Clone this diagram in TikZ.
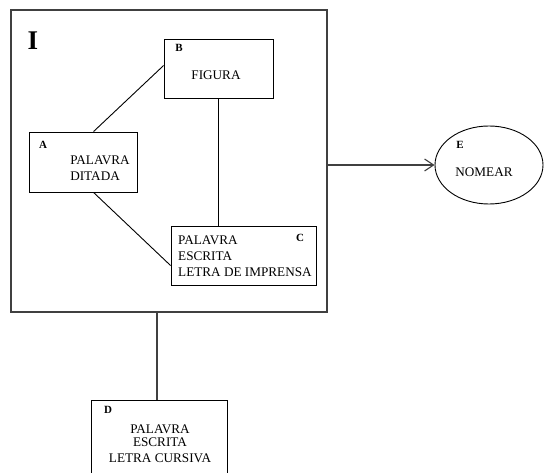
\documentclass[tikz,border=0pt]{standalone}
\usepackage{fontspec}
\setmainfont{Liberation Serif}
\usetikzlibrary{arrows.meta,shapes.geometric}
\begin{document}
\begin{tikzpicture}[x=1pt,y=-1pt,
  box/.style={draw=black,line width=0.9pt,rectangle,inner sep=0pt},
  lbl/.style={font=\fontsize{11}{11}\selectfont\bfseries,inner sep=0pt},
  txt/.style={font=\fontsize{13.2}{16}\selectfont,inner sep=0pt,align=center},
  link/.style={draw=black,line width=0.9pt},
  outer/.style={draw=black!75,line width=1.1pt}]
\useasboundingbox (0,0) rectangle (546,473);
\clip (0,0) rectangle (546,473);
% frame I
\node[outer,rectangle,minimum width=316pt,minimum height=302pt,inner sep=0pt] (I) at (169,161) {};
\node[font=\fontsize{27}{27}\selectfont\bfseries,inner sep=0pt] (Ilbl) at (33,41) {I};
% B
\node[box,minimum width=109pt,minimum height=59pt] (B) at (218.5,68.5) {};
\node[lbl] (Bl) at (179,48) {B};
\node[txt] (Bt) at (216,75) {FIGURA};
% A
\node[box,minimum width=108pt,minimum height=60pt] (A) at (83,162) {};
\node[lbl] (Al) at (43,145) {A};
\node[txt,align=left] (At) at (100,168) {PALAVRA\\DITADA};
% C
\node[box,minimum width=145pt,minimum height=59pt] (C) at (243.5,255.5) {};
\node[lbl] (Cl) at (300,238) {C};
\node[txt,align=left,anchor=west] (Ct) at (178,256) {PALAVRA\\ESCRITA\\LETRA DE IMPRENSA};
% E
\node[draw=black,line width=0.9pt,ellipse,minimum width=108pt,minimum height=78pt,inner sep=0pt] (E) at (489,165) {};
\node[lbl] (El) at (460,145) {E};
\node[txt] (Et) at (484,172) {NOMEAR};
% D
\node[box,minimum width=136pt,minimum height=80pt] (D) at (159,440) {};
\node[lbl] (Dl) at (108,410) {D};
\node[txt] (Dt) at (160,444) {PALAVRA\\[-3pt]ESCRITA\\LETRA CURSIVA};
% connectors
\draw[link] ([xshift=65pt]A.north west) -- ([yshift=-27pt]B.north west);
\draw[link] ([xshift=65pt]A.south west) -- ([yshift=-10pt]C.west);
\draw[link] (B.south) -- (B.south |- C.north);
\draw[outer,-{Straight Barb[length=9pt,width=12pt]}] (E.west -| I.east) -- (E.west);
\draw[outer] (I.south -| 157,0) -- (D.north -| 157,0);
\end{tikzpicture}
\end{document}
